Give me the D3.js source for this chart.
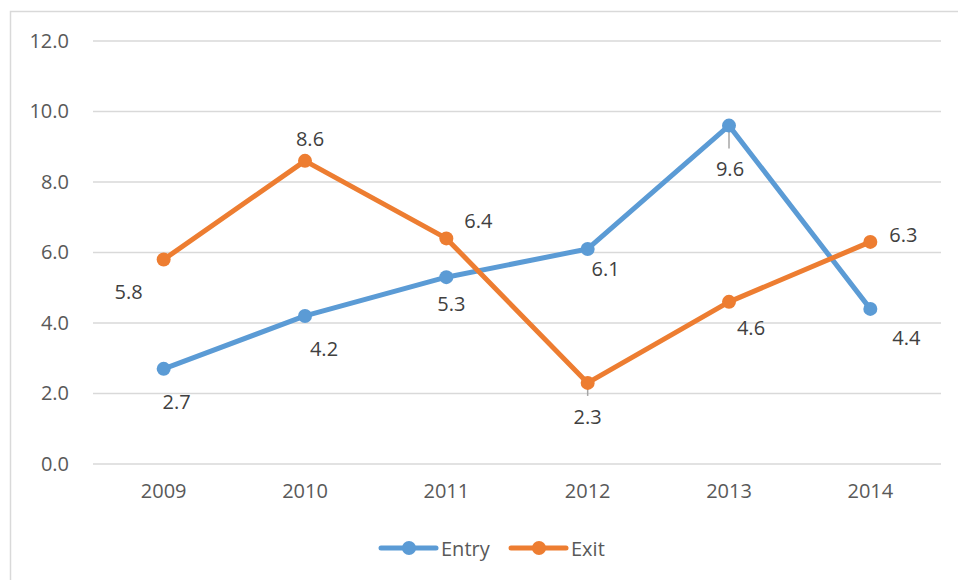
<!DOCTYPE html>
<html>
<head>
<meta charset="utf-8">
<script src="https://cdn.jsdelivr.net/npm/d3@7/dist/d3.min.js"></script>
<style>
  body { margin: 0; background: #fff; }
  text { font-family: "Open Sans", "Noto Sans", sans-serif; }
</style>
</head>
<body>
<div id="chart"></div>
<script>
// values
var years = ["2009", "2010", "2011", "2012", "2013", "2014"];
var entry = [2.7, 4.2, 5.3, 6.1, 9.6, 4.4];
var exit = [5.8, 8.6, 6.4, 2.3, 4.6, 6.3];
var yTicks = [0, 2, 4, 6, 8, 10, 12];

// where each data label sits relative to its point (px), and leader lines
var entryLabelPos = [[13, 33], [19, 33], [5, 26], [18, 20], [1, 43], [36, 29]];
var exitLabelPos = [[-35, 32], [5, -22], [32, -18], [0, 34], [22, 26], [33, -7]];
var entryLeader = [0, 0, 0, 0, 23, 0];
var exitLeader = [0, 0, 0, 13, 0, 0];

var width = 958, height = 580;
var margin = {left: 93, right: 17, top: 41, bottom: 116};

var svg = d3.select("#chart").append("svg")
	.attr("width", width)
	.attr("height", height);

// chart area border
svg.append("rect")
	.attr("x", 10.5).attr("y", 11.5)
	.attr("width", 980).attr("height", 600)
	.attr("fill", "none")
	.attr("stroke", "#d9d9d9")
	.attr("stroke-width", 1.5);

var x = d3.scaleBand()
	.domain(years)
	.range([margin.left, width - margin.right]);

var y = d3.scaleLinear()
	.domain([0, 12])
	.range([height - margin.bottom, margin.top]);

// gridlines
svg.append("g")
	.selectAll("line")
	.data(yTicks)
	.enter()
	.append("line")
	.attr("x1", margin.left)
	.attr("x2", width - margin.right)
	.attr("y1", function(d) { return y(d); })
	.attr("y2", function(d) { return y(d); })
	.attr("stroke", "#d9d9d9")
	.attr("stroke-width", 1.5);

// y axis labels
var yAxis = svg.append("g")
	.attr("transform", "translate(" + (margin.left - 15) + ",0)")
	.call(d3.axisLeft(y).tickValues(yTicks).tickSize(0).tickPadding(9).tickFormat(d3.format(".1f")));
yAxis.select(".domain").remove();
yAxis.selectAll("text")
	.style("font-size", "20px")
	.attr("fill", "#595959");

// x axis labels
var xAxis = svg.append("g")
	.attr("transform", "translate(0," + y(0) + ")")
	.call(d3.axisBottom(x).tickSize(0).tickPadding(20));
xAxis.select(".domain").remove();
xAxis.selectAll("text")
	.style("font-size", "20px")
	.attr("fill", "#595959");

function drawSeries(values, color, labelPos, leader) {
	var pts = values.map(function(v, i) {
		return {year: years[i], value: v, pos: labelPos[i], lead: leader[i]};
	});
	var cx = function(d) { return x(d.year) + x.bandwidth() / 2; };

	svg.append("path")
		.datum(pts)
		.attr("fill", "none")
		.attr("stroke", color)
		.attr("stroke-width", 5)
		.attr("stroke-linejoin", "round")
		.attr("stroke-linecap", "round")
		.attr("d", d3.line().x(cx).y(function(d) { return y(d.value); }));

	svg.append("g")
		.selectAll("line")
		.data(pts.filter(function(d) { return d.lead > 0; }))
		.enter()
		.append("line")
		.attr("x1", cx).attr("x2", cx)
		.attr("y1", function(d) { return y(d.value); })
		.attr("y2", function(d) { return y(d.value) + d.lead; })
		.attr("stroke", "#a6a6a6")
		.attr("stroke-width", 1.5);

	svg.append("g")
		.selectAll("circle")
		.data(pts)
		.enter()
		.append("circle")
		.attr("cx", cx)
		.attr("cy", function(d) { return y(d.value); })
		.attr("r", 7)
		.attr("fill", color);

	svg.append("g")
		.selectAll("text")
		.data(pts)
		.enter()
		.append("text")
		.attr("x", function(d) { return cx(d) + d.pos[0]; })
		.attr("y", function(d) { return y(d.value) + d.pos[1]; })
		.attr("text-anchor", "middle")
		.attr("dominant-baseline", "central")
		.style("font-size", "20px")
		.attr("fill", "#404040")
		.text(function(d) { return d3.format(".1f")(d.value); });
}

drawSeries(entry, "#5b9bd5", entryLabelPos, entryLeader);
drawSeries(exit, "#ed7d31", exitLabelPos, exitLeader);

// legend
var legendItems = [
	{name: "Entry", color: "#5b9bd5", x: 381},
	{name: "Exit", color: "#ed7d31", x: 511}
];
var legend = svg.append("g")
	.selectAll("g")
	.data(legendItems)
	.enter()
	.append("g")
	.attr("transform", function(d) { return "translate(" + d.x + ",548)"; });
legend.append("line")
	.attr("x1", 0).attr("x2", 55)
	.attr("stroke", function(d) { return d.color; })
	.attr("stroke-width", 5)
	.attr("stroke-linecap", "round");
legend.append("circle")
	.attr("cx", 28).attr("r", 7)
	.attr("fill", function(d) { return d.color; });
legend.append("text")
	.attr("x", 60)
	.attr("dominant-baseline", "central")
	.style("font-size", "20px")
	.attr("fill", "#595959")
	.text(function(d) { return d.name; });
</script>
</body>
</html>
